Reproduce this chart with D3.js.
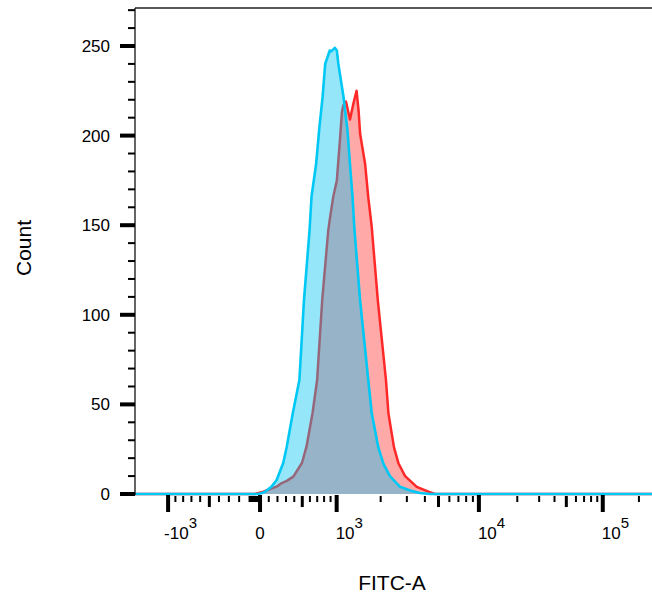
<!DOCTYPE html>
<html><head><meta charset="utf-8">
<script src="https://cdn.jsdelivr.net/npm/d3@7"></script>
<style>body{margin:0;background:#fff}svg{display:block}text{font-family:"Liberation Sans",Arial,sans-serif;fill:#000}</style>
</head><body><svg id="c" width="652" height="601"></svg>
<script>
// Histogram data: display channel (0..1024 across the logicle display) and event counts
const blueChannel = [0, 243, 251, 257, 270, 280, 293, 300, 312, 325, 334, 345, 349, 358, 364, 371, 376, 382, 385, 388, 395, 399, 402, 412, 420, 425, 430, 434, 445, 461, 468, 481, 491, 504, 524, 544, 563, 583, 1024];
const blueCount   = [0, 0, 0.5, 1.3, 4.1, 7.8, 17.3, 26.4, 45.2, 63.6, 108, 147, 166, 184, 203, 222, 240, 245, 247.5, 247, 249, 247.5, 240, 222, 203, 184, 166, 147, 108, 64, 45, 26, 17, 10, 4, 2, 0.6, 0, 0];
const redChannel  = [0, 237, 254, 267, 280, 290, 300, 313, 330, 339, 351, 360, 370, 382, 386, 392, 399, 402, 405, 409, 412, 417, 421, 425, 431, 438, 442, 445, 455, 461, 468, 480, 496, 501, 512, 521, 534, 557, 580, 593, 1024];
const redCount    = [0, 0, 1.3, 2.8, 4.1, 6.1, 7.3, 9.7, 17.3, 26.4, 45.2, 63.6, 108, 147, 155, 166, 175, 186, 197, 213, 217, 219, 214, 209, 217, 225, 214, 201, 184, 166, 149, 108, 64, 45, 26, 17, 10, 4, 1.3, 0, 0];
const yTicks = [0, 50, 100, 150, 200, 250];
const xMajorValues = [-1000, 0, 1000, 10000, 100000];
const xMajorLabels = [["-10", "3"], ["0", ""], ["10", "3"], ["10", "4"], ["10", "5"]];
const xTitle = "FITC-A";
const yTitle = "Count";

// ---- logicle transform (Parks/Moore), with a stretched negative side
function logicle(T, W, M, A, kNeg) {
  const w = W/(M+A), x2 = A/(M+A), x1 = x2+w, x0 = x2+2*w, b = (M+A)*Math.LN10;
  let lo = 1e-9, hi = b;
  for (let i=0;i<80;i++){ const m=(lo+hi)/2; const g=2*(Math.log(m)-Math.log(b))+w*(b+m); if(g>0) hi=m; else lo=m; }
  const d=(lo+hi)/2;
  const ca=Math.exp(x0*(b+d)), mfa=Math.exp(b*x1)-ca/Math.exp(d*x1);
  const a=T/((Math.exp(b)-mfa)-ca/Math.exp(d));
  const c=ca*a, f=-mfa*a;
  const B = y => a*Math.exp(b*y) - c*Math.exp(-d*y) + f;
  function pos(v){ let l=x1, h=1.6; for(let i=0;i<50;i++){const m=(l+h)/2; if(B(m)<v) l=m; else h=m;} return (l+h)/2; }
  return v => v===0 ? x1 : (v>0 ? pos(v) : x1 - kNeg*(pos(-v)-x1));
}
const toDisplay = logicle(262144, 0.85, 4.15, 0.20, 1.2);

const W = 652, H = 601;
const plot = {left:135, top:8, bottom:494, right:653};
const svg = d3.select("#c");

const x = d3.scaleLinear().domain([0, 1024]).range([plot.left, plot.right]);
const xv = v => x(toDisplay(v)*1024);
const y = d3.scaleLinear().domain([0, 250]).range([plot.bottom, 46]);

// ---- histograms
const area = d3.area().x(d=>x(d[0])).y0(y(0)).y1(d=>y(d[1]));
const line = d3.line().x(d=>x(d[0])).y(d=>y(d[1]));
const red = redChannel.map((c,i)=>[c, redCount[i]]);
const blue = blueChannel.map((c,i)=>[c, blueCount[i]]);
svg.append("path").datum(red).attr("d", area).attr("fill", "rgb(255,40,40)").attr("fill-opacity", 0.4);
svg.append("path").datum(red).attr("d", line).attr("fill", "none").attr("stroke", "rgb(255,40,40)").attr("stroke-width", 2.5).attr("stroke-linejoin","round");
svg.append("path").datum(blue).attr("d", area).attr("fill", "rgb(0,194,243)").attr("fill-opacity", 0.41);
svg.append("path").datum(blue).attr("d", line).attr("fill", "none").attr("stroke", "rgb(0,200,245)").attr("stroke-width", 2.6).attr("stroke-linejoin","round");

// ---- frame
svg.append("line").attr("x1", plot.left).attr("x2", W).attr("y1", plot.top).attr("y2", plot.top).attr("stroke", "#222").attr("stroke-width", 1.5);
svg.append("line").attr("x1", plot.left).attr("x2", plot.left).attr("y1", plot.top).attr("y2", plot.bottom+1).attr("stroke", "#111").attr("stroke-width", 1.3);

// ---- y axis
const yMinor = d3.range(10, 280, 10).filter(v => v % 50 !== 0 && y(v) >= plot.top);
svg.append("g").selectAll("line").data(yMinor).join("line")
  .attr("x1", plot.left-7).attr("x2", plot.left).attr("y1", d=>y(d)).attr("y2", d=>y(d))
  .attr("stroke", "#000").attr("stroke-width", 2);
svg.append("g").selectAll("line").data(yTicks).join("line")
  .attr("x1", plot.left-15).attr("x2", plot.left).attr("y1", d=>y(d)).attr("y2", d=>y(d))
  .attr("stroke", "#000").attr("stroke-width", 4);
svg.append("g").selectAll("text").data(yTicks).join("text")
  .attr("x", 110).attr("y", d=>y(d)).attr("dy", "0.35em").attr("text-anchor", "end")
  .attr("font-size", 17).text(d=>d);

// ---- x axis ticks
const xMinor = [], xMid = [];
for (let m=1; m<=9; m++) { if (m!==5) { xMinor.push(-m*100); xMinor.push(m*100); } }
for (let m=1; m<=9; m++) xMinor.push(-m*10);
xMid.push(-500, 500);
for (const e of [3,4,5]) for (let m=2; m<=9; m++) {
  const v = m*Math.pow(10,e);
  if (v > 262144) continue;
  if (m===5) xMid.push(v); else xMinor.push(v);
}
const ty = plot.bottom + 2;
svg.append("g").selectAll("line").data(xMinor).join("line")
  .attr("x1", d=>xv(d)).attr("x2", d=>xv(d)).attr("y1", ty).attr("y2", ty+6)
  .attr("stroke", "#000").attr("stroke-width", 2);
svg.append("g").selectAll("line").data(xMid).join("line")
  .attr("x1", d=>xv(d)).attr("x2", d=>xv(d)).attr("y1", ty).attr("y2", ty+11)
  .attr("stroke", "#000").attr("stroke-width", 3);
svg.append("g").selectAll("line").data(xMajorValues).join("line")
  .attr("x1", d=>xv(d)).attr("x2", d=>xv(d)).attr("y1", ty-1).attr("y2", ty+16)
  .attr("stroke", "#000").attr("stroke-width", 4);
const lab = svg.append("g").selectAll("text").data(xMajorValues).join("text")
  .attr("x", (d,i)=> xMajorLabels[i][1] ? xv(d) - (d<0 ? 4 : 1) : xv(d))
  .attr("y", 539).attr("font-size", 17)
  .attr("text-anchor", (d,i)=> xMajorLabels[i][1] ? "start" : "middle");
lab.append("tspan").text((d,i)=>xMajorLabels[i][0]);
lab.append("tspan").attr("dy", -11).attr("font-size", 15).text((d,i)=>xMajorLabels[i][1]);

// ---- titles
svg.append("text").attr("x", 392).attr("y", 590).attr("text-anchor", "middle").attr("font-size", 21).text(xTitle);
svg.append("text").attr("transform", "translate(31,248) rotate(-90)").attr("text-anchor", "middle").attr("font-size", 21).text(yTitle);
</script></body></html>
